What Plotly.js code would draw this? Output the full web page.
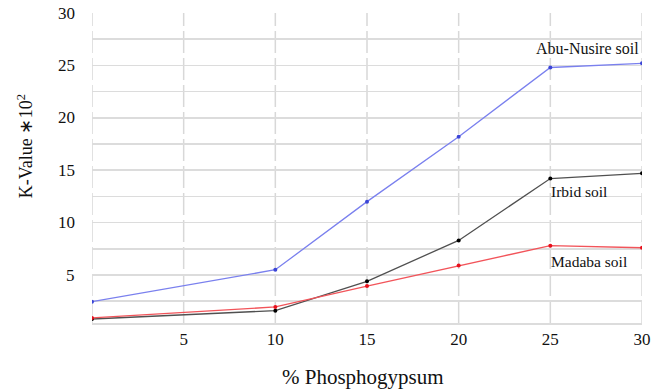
<!DOCTYPE html>
<html>
<head>
<meta charset="utf-8">
<script src="https://cdn.plot.ly/plotly-3.0.1.min.js"></script>
<style>html,body{margin:0;padding:0;background:#fff;}#chart{width:661px;height:390px;}</style>
</head>
<body>
<div id="chart"></div>
<script>
const phosphogypsum = [0, 10, 15, 20, 25, 30];
const abuNusire = [2.45, 5.5, 12.0, 18.2, 24.8, 25.2];
const irbid = [0.8, 1.6, 4.4, 8.3, 14.2, 14.7];
const madaba = [0.9, 1.95, 3.95, 5.9, 7.8, 7.6];
const seriesNames = ['Abu-Nusire soil', 'Irbid soil', 'Madaba soil'];
const xGridVals = [0, 5, 10, 15, 20, 25, 30];
const xTicks = [5, 10, 15, 20, 25, 30];
const yTicks = [5, 10, 15, 20, 25, 30];

const serif = '"Times New Roman", "Liberation Serif", Tinos, serif';

const traces = [
  {x: phosphogypsum, y: abuNusire, name: seriesNames[0], mode: 'lines+markers',
   line: {color: '#7a80ee', width: 1.3}, marker: {color: '#3b45d6', size: 4}},
  {x: phosphogypsum, y: irbid, name: seriesNames[1], mode: 'lines+markers',
   line: {color: '#505050', width: 1.3}, marker: {color: '#000', size: 4}},
  {x: phosphogypsum, y: madaba, name: seriesNames[2], mode: 'lines+markers',
   line: {color: '#f2545a', width: 1.3}, marker: {color: '#e8101c', size: 4}}
];

const vGrid = xGridVals.map(v => ({type: 'line', xref: 'x', yref: 'paper', x0: v, x1: v, y0: 0, y1: 1,
  layer: 'below', line: {color: '#d8d8d8', width: 1.5, dash: '22px,5px'}}));

const yLabels = yTicks.map(v => ({xref: 'paper', yref: 'y', x: -0.027, y: v, xanchor: 'right', yanchor: 'middle',
  text: String(v), showarrow: false, font: {family: serif, size: 17, color: '#111'}}));

const layout = {
  width: 661, height: 390,
  margin: {l: 92, r: 19, t: 13, b: 67},
  paper_bgcolor: '#fff', plot_bgcolor: '#fff',
  showlegend: false,
  font: {family: serif, color: '#111', size: 16},
  shapes: vGrid,
  xaxis: {
    range: [0, 30], tickvals: xTicks,
    showgrid: false,
    zeroline: false, showline: true, linecolor: '#dcdcdc', linewidth: 1.5,
    ticks: '', tickfont: {family: serif, size: 17, color: '#111'}
  },
  yaxis: {
    range: [0.42, 30], tickvals: yTicks, showticklabels: false,
    showgrid: true, gridcolor: '#dcdcdc', gridwidth: 1.5,
    minor: {dtick: 2.5, tick0: 0, showgrid: true, gridcolor: '#dcdcdc', gridwidth: 1.5},
    zeroline: false, showline: false, ticks: ''
  },
  annotations: yLabels.concat([
    {xref: 'paper', yref: 'paper', x: -0.1218, y: 0.57, xanchor: 'center', yanchor: 'middle',
     text: 'K-Value \u2217<span style="font-size:2px"> </span>10<sup>2</sup>', textangle: -90,
     showarrow: false, font: {family: serif, size: 18, color: '#111'}},
    {xref: 'paper', yref: 'paper', x: 0.492, y: -0.174, xanchor: 'center', yanchor: 'middle',
     text: '% Phosphogypsum', showarrow: false, font: {family: serif, size: 21, color: '#111'}},
    {x: 29.95, y: 26.65, text: seriesNames[0], showarrow: false, xanchor: 'right', yanchor: 'middle',
     font: {family: serif, size: 16, color: '#111'}},
    {x: 24.95, y: 12.95, text: seriesNames[1], showarrow: false, xanchor: 'left', yanchor: 'middle',
     font: {family: serif, size: 15.5, color: '#111'}},
    {x: 24.95, y: 6.3, text: seriesNames[2], showarrow: false, xanchor: 'left', yanchor: 'middle',
     font: {family: serif, size: 15.5, color: '#111'}}
  ])
};

Plotly.newPlot('chart', traces, layout, {displayModeBar: false, staticPlot: true});
</script>
</body>
</html>
